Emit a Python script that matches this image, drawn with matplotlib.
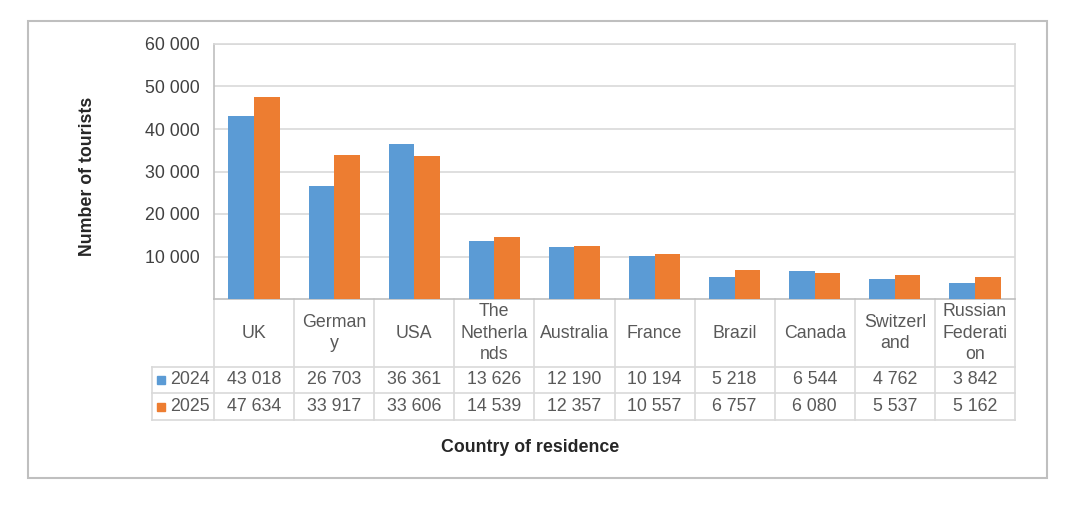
import numpy as np
import matplotlib.pyplot as plt
from matplotlib.patches import Rectangle

plt.rcParams["font.family"] = ["Liberation Sans", "DejaVu Sans"]

countries = ["UK", "German\ny", "USA", "The\nNetherla\nnds", "Australia", "France",
             "Brazil", "Canada", "Switzerl\nand", "Russian\nFederati\non"]
years = ["2024", "2025"]
v2024 = [43018, 26703, 36361, 13626, 12190, 10194, 5218, 6544, 4762, 3842]
v2025 = [47634, 33917, 33606, 14539, 12357, 10557, 6757, 6080, 5537, 5162]
yticks = [10000, 20000, 30000, 40000, 50000, 60000]

blue = "#5B9BD5"
orange = "#ED7D31"
grid_c = "#D9D9D9"
txt_c = "#595959"
fs = 12.8

W, H = 1083, 507
fig = plt.figure(figsize=(W / 100, H / 100), dpi=100)

# outer chart border
fig.patches.append(Rectangle((28 / W, 1 - 478 / H), (1047 - 28) / W, (478 - 21) / H,
                             transform=fig.transFigure, fill=False,
                             edgecolor="#BFBFBF", linewidth=1.5))

ax = fig.add_axes([214 / W, 1 - 299 / H, (1015 - 214) / W, (299 - 44) / H])

x = np.arange(len(countries))
w = 0.32
ax.bar(x - w / 2, v2024, w, color=blue, zorder=3)
ax.bar(x + w / 2, v2025, w, color=orange, zorder=3)

ax.set_xlim(-0.5, len(countries) - 0.5)
ax.set_ylim(0, 60000)
ax.set_yticks(yticks)
ax.set_yticklabels([f"{t:,}".replace(",", " ") for t in yticks], fontsize=fs, color="#404040")
ax.set_xticks([])
ax.tick_params(axis="y", length=0, pad=10)
ax.yaxis.grid(True, color=grid_c, linewidth=1.2, zorder=0)
for s in ax.spines.values():
    s.set_color(grid_c)
    s.set_linewidth(1.2)
ax.spines["left"].set_color("#BFBFBF")
ax.spines["bottom"].set_color("#BFBFBF")

# data table below the axis
trans = ax.get_xaxis_transform()
h_px = 255.0
y_head = -(367 - 299) / h_px
y_r1 = -(393 - 299) / h_px
y_r2 = -(420 - 299) / h_px
x_left = (152 - 214) / 80.1 - 0.5
xr = len(countries) - 0.5

for b in np.arange(-0.5, len(countries), 1.0):
    ax.plot([b, b], [0, y_r2], color=grid_c, lw=1.2, transform=trans, clip_on=False)
ax.plot([x_left, x_left], [y_head, y_r2], color=grid_c, lw=1.2, transform=trans, clip_on=False)
for yy in [y_head, y_r1, y_r2]:
    ax.plot([x_left, xr], [yy, yy], color=grid_c, lw=1.2, transform=trans, clip_on=False)

for i, c in enumerate(countries):
    ax.text(i, y_head / 2, c, ha="center", va="center", fontsize=fs, color=txt_c,
            transform=trans, linespacing=1.32)
    ax.text(i, (y_head + y_r1) / 2, f"{v2024[i]:,}".replace(",", " "), ha="center",
            va="center", fontsize=fs, color=txt_c, transform=trans)
    ax.text(i, (y_r1 + y_r2) / 2, f"{v2025[i]:,}".replace(",", " "), ha="center",
            va="center", fontsize=fs, color=txt_c, transform=trans)

# legend keys inside table
for py, col, lab in [(380, blue, years[0]), (406.5, orange, years[1])]:
    fig.patches.append(Rectangle((157 / W, 1 - (py + 4) / H), 8 / W, 8 / H,
                                 transform=fig.transFigure, color=col))
    fig.text(170 / W, 1 - py / H, lab, ha="left", va="center", fontsize=fs, color=txt_c)

fig.text(88 / W, 1 - 176 / H, "Number of tourists", rotation=90, ha="center", va="center",
         fontsize=fs, fontweight="bold", color="#262626")
fig.text(530 / W, 1 - 448 / H, "Country of residence", ha="center", va="center",
         fontsize=fs, fontweight="bold", color="#262626")

fig.savefig("out.png", dpi=100)
